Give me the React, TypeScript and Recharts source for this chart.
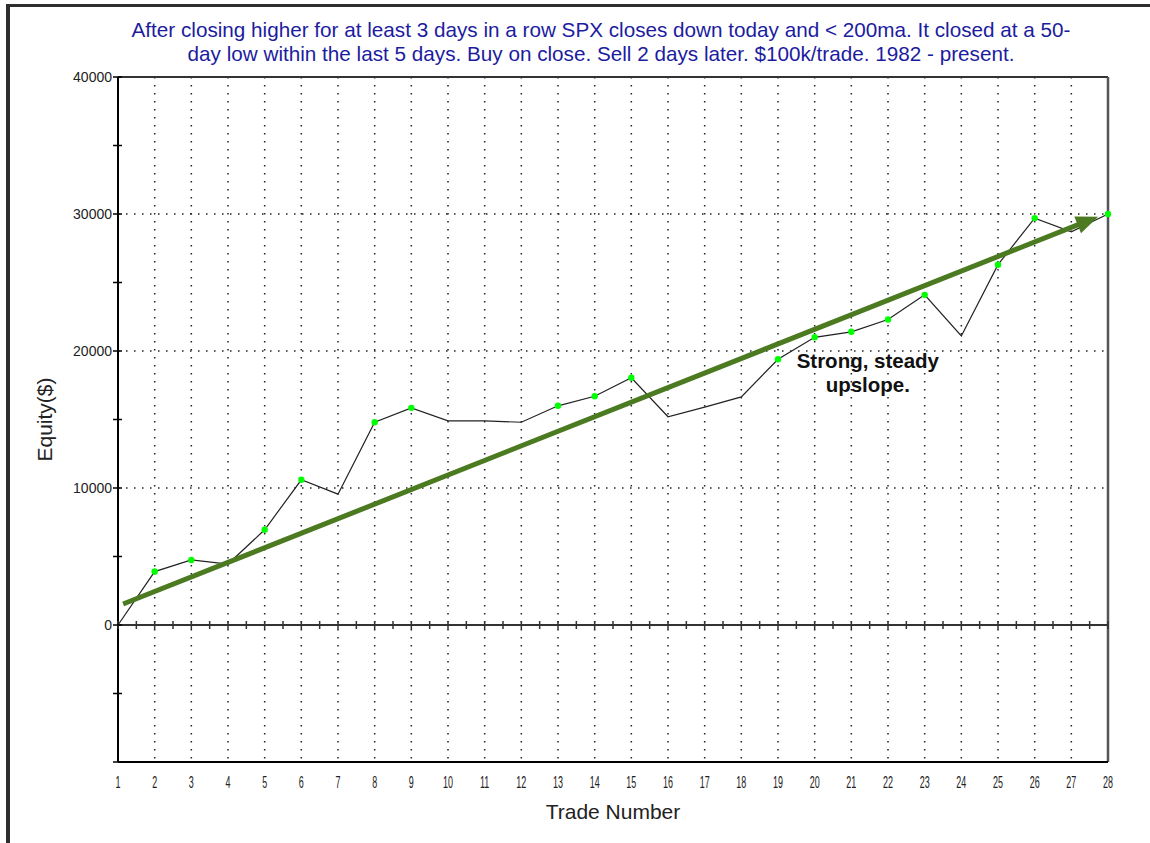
import React from "react";
import {
  ComposedChart,
  Line,
  Scatter,
  XAxis,
  YAxis,
  CartesianGrid,
  ReferenceLine,
  ReferenceDot,
} from "recharts";

const titleLines = [
  "After closing higher for at least 3 days in a row SPX closes down today and < 200ma. It closed at a 50-",
  "day low within the last 5 days. Buy on close. Sell 2 days later. $100k/trade. 1982 - present.",
];

const trades = [
  1, 2, 3, 4, 5, 6, 7, 8, 9, 10, 11, 12, 13, 14, 15, 16, 17, 18, 19, 20, 21, 22, 23, 24, 25, 26, 27, 28,
];
const equity = [
  0, 3900, 4750, 4450, 6950, 10600, 9550, 14800, 15850, 14900, 14900, 14800, 16000, 16700, 18050, 15200,
  15900, 16650, 19400, 21000, 21400, 22300, 24100, 21100, 26300, 29700, 28700, 30000,
];
// trades that carry a green marker
const marked = [2, 3, 5, 6, 8, 9, 13, 14, 15, 19, 20, 21, 22, 23, 25, 26, 28];

const yTicks = [-10000, -5000, 0, 5000, 10000, 15000, 20000, 25000, 30000, 35000, 40000];
const yLabelled = [0, 10000, 20000, 30000, 40000];
const hGrid = [10000, 20000, 30000];
const vGrid = trades.slice(1, -1);

// tick marks along the zero line, every half trade
const zeroTicks = trades.flatMap((t) => (t < 28 ? [t, t + 0.5] : [t])).map((t) => ({ trade: t, y: 0 }));

const trendStart = { x: 1.14, y: 1530 };
const trendEnd = { x: 27.73, y: 29800 };
const noteAt = { x: 21.45, y: 18760 };
const noteLines = ["Strong, steady", "upslope."];

const data = trades.map((t, i) => ({ trade: t, equity: equity[i] }));

const FONT = '"Liberation Sans", Arial, sans-serif';
const ARROW = "#4b7a21";

const YTick = (props: any) => {
  const { x, y, payload } = props;
  const ax = x + 6;
  return (
    <g>
      <line x1={ax - 5} x2={ax + 4} y1={y} y2={y} stroke="#000" strokeWidth={1.5} />
      {yLabelled.includes(payload.value) && (
        <text x={x} y={y} dy={5} textAnchor="end" fontSize={14} fill="#222" fontFamily={FONT}>
          {payload.value}
        </text>
      )}
    </g>
  );
};

const XTick = (props: any) => {
  const { x, y, payload } = props;
  return (
    <text
      transform={`translate(${x},${y}) scale(0.56,1)`}
      dy="0.72em"
      textAnchor="middle"
      fontSize={16}
      fill="#222"
      fontFamily={FONT}
    >
      {payload.value}
    </text>
  );
};

const Dot = (props: any) => {
  const { cx, cy, payload } = props;
  if (!marked.includes(payload.trade)) return <g key={payload.trade} />;
  return <circle key={payload.trade} cx={cx} cy={cy} r={3.2} fill="#00ff00" stroke="none" />;
};

const ZeroTick = (props: any) => {
  const { cx, cy } = props;
  return <line x1={cx} x2={cx} y1={cy - 4} y2={cy + 4} stroke="#333" strokeWidth={1.5} />;
};

const Arrow = (props: any) => {
  const { x1, y1, x2, y2 } = props;
  const dx = x2 - x1;
  const dy = y2 - y1;
  const len = Math.sqrt(dx * dx + dy * dy);
  const ux = dx / len;
  const uy = dy / len;
  const head = 22;
  const half = 9;
  const bx = x2 - ux * head;
  const by = y2 - uy * head;
  return (
    <g>
      <line x1={x1} y1={y1} x2={bx + ux * 2} y2={by + uy * 2} stroke={ARROW} strokeWidth={5} />
      <polygon
        points={`${x2},${y2} ${bx - uy * half},${by + ux * half} ${bx + uy * half},${by - ux * half}`}
        fill={ARROW}
      />
    </g>
  );
};

const Note = (props: any) => {
  const { cx, cy } = props;
  return (
    <text x={cx} y={cy} textAnchor="middle" fontSize={20.5} fontWeight="bold" fill="#111" fontFamily={FONT}>
      {noteLines.map((l, i) => (
        <tspan key={i} x={cx} dy={i === 0 ? 0 : 24}>
          {l}
        </tspan>
      ))}
    </text>
  );
};

export default function App() {
  return (
    <div style={{ position: "absolute", left: 0, top: 0, width: 1150, height: 843, background: "#fff" }}>
      <div
        style={{
          position: "absolute",
          left: 6,
          top: 4,
          right: 0,
          bottom: 0,
          borderLeft: "4px solid #2e2e2e",
          borderTop: "3px solid #2e2e2e",
        }}
      />
      <div
        style={{
          position: "absolute",
          left: 51,
          top: 18,
          width: 1100,
          textAlign: "center",
          fontFamily: FONT,
          fontSize: 20.7,
          lineHeight: "24px",
          color: "#1c1ca0",
        }}
      >
        {titleLines.map((l, i) => (
          <div key={i} style={{ whiteSpace: "nowrap" }}>
            {l}
          </div>
        ))}
      </div>
      <div style={{ position: "absolute", left: 0, top: 0 }}>
        <ComposedChart
          width={1150}
          height={843}
          data={data}
          margin={{ top: 77, right: 42, bottom: 21, left: 38 }}
        >
          <CartesianGrid
            horizontalValues={hGrid}
            verticalValues={vGrid}
            stroke="#222"
            strokeWidth={1.5}
            strokeDasharray="1.5 6.5"
          />
          <XAxis
            dataKey="trade"
            type="number"
            domain={[1, 28]}
            ticks={trades}
            interval={0}
            height={60}
            tickLine={false}
            tickSize={0}
            tickMargin={14}
            tick={<XTick />}
            axisLine={{ stroke: "#000", strokeWidth: 2 }}
            label={{
              value: "Trade Number",
              position: "insideBottom",
              offset: 3,
              style: { fontSize: 21, fill: "#222", fontFamily: FONT },
            }}
          />
          <YAxis
            type="number"
            domain={[-10000, 40000]}
            ticks={yTicks}
            interval={0}
            width={80}
            tickLine={false}
            tickSize={0}
            tickMargin={6}
            tick={<YTick />}
            axisLine={{ stroke: "#000", strokeWidth: 2 }}
            label={{
              value: "Equity($)",
              angle: -90,
              position: "insideLeft",
              offset: 7,
              style: { fontSize: 21, fill: "#222", fontFamily: FONT, textAnchor: "middle" },
            }}
          />
          <ReferenceLine y={40000} stroke="#333" strokeWidth={2} />
          <ReferenceLine x={28} stroke="#555" strokeWidth={2.5} />
          <ReferenceLine y={0} stroke="#333" strokeWidth={2} />
          <Scatter data={zeroTicks} dataKey="y" shape={<ZeroTick />} isAnimationActive={false} />
          <Line
            dataKey="equity"
            stroke="#222"
            strokeWidth={1.2}
            dot={<Dot />}
            activeDot={false}
            isAnimationActive={false}
          />
          <ReferenceLine
            segment={[trendStart, trendEnd]}
            shape={<Arrow />}
            stroke={ARROW}
          />
          <ReferenceDot x={noteAt.x} y={noteAt.y} r={0} shape={<Note />} />
        </ComposedChart>
      </div>
    </div>
  );
}
